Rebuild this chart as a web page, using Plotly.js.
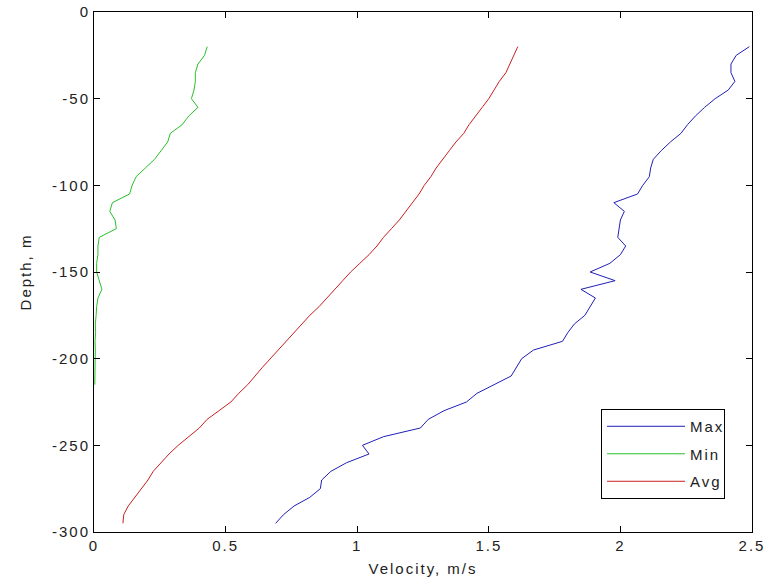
<!DOCTYPE html>
<html><head><meta charset="utf-8">
<script src="https://cdn.plot.ly/plotly-3.0.1.min.js"></script>
<style>html,body{margin:0;padding:0;background:#fff;}#chart{width:778px;height:587px;}
#chart svg text{letter-spacing:2px;}</style>
</head><body><div id="chart"></div>
<script>
var maxDepth = [-20,-25,-30,-35,-40,-45,-50,-55,-60,-65,-70,-75,-80,-85,-90,-95,-100,-105,-110,-115,-120,-125,-130,-135,-140,-145,-150,-155,-160,-165,-170,-175,-180,-185,-190,-195,-200,-205,-210,-215,-220,-225,-230,-235,-240,-245,-250,-255,-260,-265,-270,-275,-280,-285,-290,-295];
var maxVel = [2.49,2.44,2.42,2.42,2.435,2.41,2.36,2.32,2.285,2.255,2.23,2.19,2.155,2.125,2.115,2.11,2.085,2.065,1.975,2.015,2.0,1.995,1.99,2.02,2.0,1.96,1.885,1.98,1.85,1.905,1.885,1.865,1.825,1.80,1.78,1.67,1.625,1.605,1.585,1.52,1.455,1.415,1.33,1.27,1.24,1.10,1.02,1.045,0.96,0.90,0.865,0.86,0.82,0.76,0.72,0.69];

var minDepth = [-20,-25,-30,-35,-40,-45,-50,-55,-60,-65,-70,-75,-80,-85,-90,-95,-100,-105,-110,-115,-120,-125,-130,-135,-140,-145,-150,-155,-160,-165,-170,-175,-180,-185,-190,-195,-200,-205,-210,-215];
var minVel = [0.43,0.42,0.395,0.385,0.385,0.38,0.37,0.395,0.36,0.335,0.29,0.28,0.255,0.23,0.195,0.16,0.145,0.135,0.07,0.06,0.08,0.085,0.02,0.015,0.015,0.01,0.01,0.02,0.03,0.015,0.01,0.008,0.005,0.006,0.004,0.005,0.004,0.003,0.004,0.003];

var avgDepth = [-20,-25,-30,-35,-40,-45,-50,-55,-60,-65,-70,-75,-80,-85,-90,-95,-100,-105,-110,-115,-120,-125,-130,-135,-140,-145,-150,-155,-160,-165,-170,-175,-180,-185,-190,-195,-200,-205,-210,-215,-220,-225,-230,-235,-240,-245,-250,-255,-260,-265,-270,-275,-280,-285,-290,-295];
var avgVel = [1.61,1.595,1.58,1.565,1.54,1.52,1.50,1.475,1.45,1.425,1.405,1.375,1.35,1.325,1.3,1.28,1.255,1.235,1.21,1.185,1.16,1.13,1.10,1.075,1.045,1.01,0.975,0.945,0.915,0.885,0.855,0.82,0.79,0.76,0.73,0.70,0.668,0.64,0.612,0.584,0.55,0.52,0.475,0.43,0.40,0.36,0.32,0.285,0.255,0.225,0.205,0.18,0.155,0.13,0.113,0.11];

var seriesNames = ["Max","Min","Avg"];
var xTickVals = [0,0.5,1,1.5,2,2.5];
var xTickText = ["0","0.5","1","1.5","2","2.5"];
var yTickVals = [0,-50,-100,-150,-200,-250,-300];
var yTickText = ["0","-50","-100","-150","-200","-250","-300"];

var font = {family:"Liberation Sans, Arial, sans-serif", size:15, color:"#222"};
var traces = [
  {x:maxVel, y:maxDepth, name:seriesNames[0], legendgroup:"a", mode:"lines", line:{color:"#2020b8", width:1}},
  {x:minVel, y:minDepth, name:seriesNames[1], legendgroup:"b", mode:"lines", line:{color:"#28c028", width:1}},
  {x:avgVel, y:avgDepth, name:seriesNames[2], legendgroup:"c", mode:"lines", line:{color:"#c82020", width:1}}
];
var axisCommon = {showgrid:false, zeroline:false, showline:true, linecolor:"#000", linewidth:1, mirror:"ticks", ticks:"inside", ticklen:6, tickcolor:"#000", tickfont:font};
var layout = {
  width:778, height:587,
  margin:{l:94, r:26, t:12, b:55},
  paper_bgcolor:"#fff", plot_bgcolor:"#fff",
  font:font,
  xaxis:Object.assign({}, axisCommon, {automargin:"bottom", range:[0,2.5], tickvals:xTickVals, ticktext:xTickText, title:{text:"Velocity, m/s", font:font, standoff:10}}),
  yaxis:Object.assign({}, axisCommon, {automargin:"left", range:[-300,0], tickvals:yTickVals, ticktext:yTickText, title:{text:"Depth, m", font:font, standoff:24}}),
  showlegend:true,
  legend:{x:0.959, y:0.2365, xanchor:"right", yanchor:"top", bordercolor:"#000", borderwidth:1, bgcolor:"#fff", font:font, tracegroupgap:5, itemwidth:78, traceorder:"grouped"}
};
Plotly.newPlot("chart", traces, layout, {displayModeBar:false, staticPlot:true});
</script></body></html>
